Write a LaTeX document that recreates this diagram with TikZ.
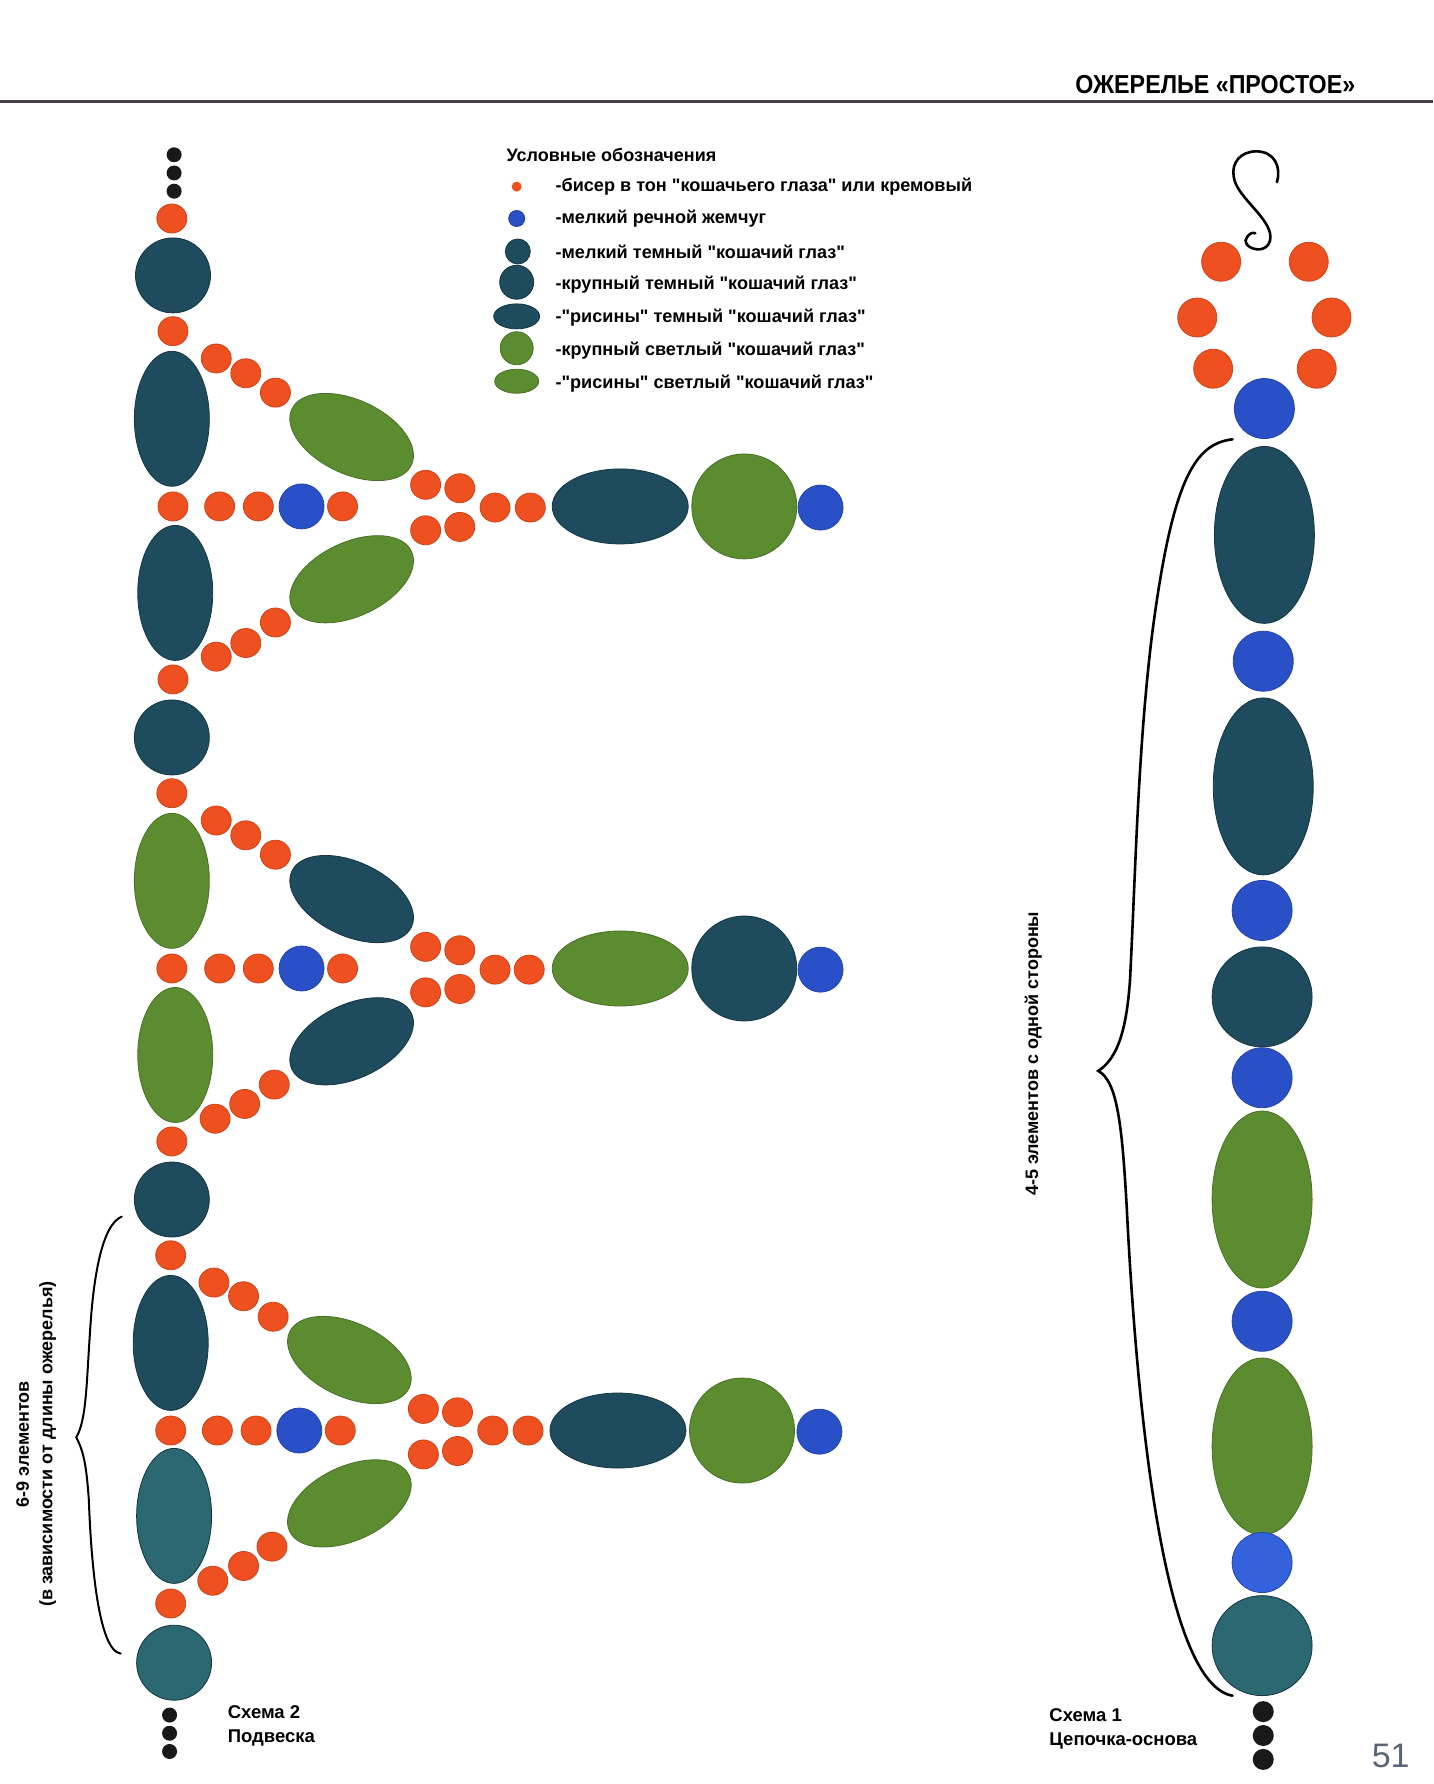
\documentclass[tikz,border=0pt]{standalone}
\usepackage{fontspec}
\setmainfont[Ligatures=TeXOff]{Liberation Sans}
\newfontfamily\headfont[FakeStretch=0.895]{Liberation Sans}
\usetikzlibrary{shapes.geometric}
\definecolor{tealdark}{HTML}{1E4C5E}
\definecolor{teallight}{HTML}{2C6872}
\definecolor{leaf}{HTML}{5C8C30}
\definecolor{beadred}{HTML}{EE5020}
\definecolor{pearl}{HTML}{2A50C8}
\definecolor{pearllight}{HTML}{3462DC}
\definecolor{rulegray}{HTML}{4A3C4A}
\definecolor{numgray}{HTML}{5A6678}
\tikzset{
 bead/.style={shape=ellipse,inner sep=0pt,outer sep=0pt,line width=0.8pt},
 redb/.style={bead,fill=beadred,draw=beadred!85!black,minimum width=30pt,minimum height=29pt},
 redbig/.style={bead,fill=beadred,draw=beadred!85!black,minimum width=39pt,minimum height=39pt},
 blueb/.style={bead,fill=pearl,draw=pearl!85!black,minimum width=45pt,minimum height=45pt},
 bluebig/.style={bead,fill=pearl,draw=pearl!85!black,minimum width=60pt,minimum height=60pt},
 dotb/.style={bead,fill=black!90,minimum width=15pt,minimum height=15pt},
 dotbig/.style={bead,fill=black!90,minimum width=21pt,minimum height=21pt},
 tealb/.style={bead,fill=tealdark,draw=tealdark!70!black},
 greenb/.style={bead,fill=leaf,draw=leaf!80!black},
 ball/.style={minimum width=75pt,minimum height=75pt},
 ballbig/.style={minimum width=105pt,minimum height=105pt},
 ballright/.style={minimum width=100pt,minimum height=100pt},
 ricev/.style={minimum width=75pt,minimum height=135pt},
 riceh/.style={minimum width=136pt,minimum height=75pt},
 ricer/.style={minimum width=132pt,minimum height=74pt},
 riceright/.style={minimum width=100pt,minimum height=177pt},
 legend/.style={anchor=west,inner sep=0pt,font=\fontsize{18.1}{20}\selectfont\bfseries},
 caption/.style={anchor=west,inner sep=0pt,font=\fontsize{18.5}{20}\selectfont\bfseries},
 sidenote/.style={rotate=90,inner sep=0pt,font=\fontsize{18}{20}\selectfont\bfseries},
 swirl/.style={line width=2.6pt,line cap=round}
}
\begin{document}
\begin{tikzpicture}[x=1.138pt,y=-1.138pt]
\useasboundingbox (0,0) rectangle (1259.2,1567.6);
% head line
\draw[rulegray,line width=3pt] (0,89.5) -- (1259.2,89.5);
\node[anchor=east,inner sep=0pt,font=\headfont\bfseries\fontsize{26}{28}\selectfont] (title) at (1191,74) {ОЖЕРЕЛЬЕ «ПРОСТОЕ»};
% legend
\node[legend,font=\fontsize{18}{20}\selectfont\bfseries] (lgtitle) at (445,136) {Условные обозначения};
\node[bead,fill=beadred,minimum size=10pt] (lg1) at (454,164) {};
\node[bead,fill=pearl,draw=pearl!70!black,minimum size=16pt] (lg2) at (454,192) {};
\node[tealb,minimum size=25pt] (lg3) at (455,221) {};
\node[tealb,minimum size=34pt] (lg4) at (454,248) {};
\node[tealb,minimum width=46pt,minimum height=25pt] (lg5) at (454,278) {};
\node[greenb,minimum size=33pt] (lg6) at (454,306) {};
\node[greenb,minimum width=44pt,minimum height=24pt] (lg7) at (454,335) {};
\node[legend] (lb1) at (488,164) {-бисер в тон "кошачьего глаза" или кремовый};
\node[legend] (lb2) at (488,192) {-мелкий речной жемчуг};
\node[legend] (lb3) at (488,221) {-мелкий темный "кошачий глаз"};
\node[legend] (lb4) at (488,250) {-крупный темный "кошачий глаз"};
\node[legend] (lb5) at (488,279) {-"рисины" темный "кошачий глаз"};
\node[legend] (lb6) at (488,308) {-крупный светлый "кошачий глаз"};
\node[legend] (lb7) at (488,337) {-"рисины" светлый "кошачий глаз"};
% pendant, top part
\node[dotb] (ta) at (153,136) {};
\node[dotb] (tb) at (153,152) {};
\node[dotb] (tc) at (153,168) {};
\node[redb] (a0) at (151,192) {};
\node[tealb,ball] (a1) at (152,242) {};
\node[redb] (a2) at (152,291) {};
\node[tealb,ricev] (a3) at (151,368) {};
\node[redb] (a4) at (190,315) {};
\node[redb] (a5) at (216,328) {};
\node[redb] (a6) at (242,345) {};
\node[greenb,ricer,rotate=-25] (a7) at (309,384) {};
\node[redb] (a8) at (152,445) {};
\node[redb] (a9) at (193,445) {};
\node[redb] (a10) at (227,445) {};
\node[blueb] (a11) at (265,445) {};
\node[redb] (a12) at (301,445) {};
\node[redb] (a13) at (374,426) {};
\node[redb] (a14) at (404,429) {};
\node[redb] (a15) at (374,466) {};
\node[redb] (a16) at (404,463) {};
\node[redb] (a17) at (435,446) {};
\node[redb] (a18) at (466,446) {};
\node[tealb,riceh] (a19) at (545,445) {};
\node[greenb,ballbig] (a20) at (654,445) {};
\node[blueb] (a21) at (721,446) {};
\node[tealb,ricev] (a22) at (154,521) {};
\node[greenb,ricer,rotate=25] (a23) at (309,509) {};
\node[redb] (a24) at (242,547) {};
\node[redb] (a25) at (216,565) {};
\node[redb] (a26) at (190,577) {};
\node[redb] (a27) at (152,597) {};
\node[tealb,ball] (a28) at (151,648) {};
% pendant, middle part
\node[redb] (b2) at (151,697) {};
\node[greenb,ricev] (b3) at (151,774) {};
\node[redb] (b4) at (190,721) {};
\node[redb] (b5) at (216,734) {};
\node[redb] (b6) at (242,751) {};
\node[tealb,ricer,rotate=-25] (b7) at (309,790) {};
\node[redb] (b8) at (151,851) {};
\node[redb] (b9) at (193,851) {};
\node[redb] (b10) at (227,851) {};
\node[blueb] (b11) at (265,851) {};
\node[redb] (b12) at (301,851) {};
\node[redb] (b13) at (374,832) {};
\node[redb] (b14) at (404,835) {};
\node[redb] (b15) at (374,872) {};
\node[redb] (b16) at (404,869) {};
\node[redb] (b17) at (435,852) {};
\node[redb] (b18) at (465,852) {};
\node[greenb,riceh] (b19) at (545,851) {};
\node[tealb,ballbig] (b20) at (654,851) {};
\node[blueb] (b21) at (721,852) {};
\node[greenb,ricev] (b22) at (154,927) {};
\node[tealb,ricer,rotate=25] (b23) at (309,915) {};
\node[redb] (b24) at (241,953) {};
\node[redb] (b25) at (215,970) {};
\node[redb] (b26) at (189,983) {};
\node[redb] (b27) at (151,1003) {};
\node[tealb,ball] (b28) at (151,1054) {};
% pendant, lower part
\node[redb] (c2) at (150,1103) {};
\node[tealb,ricev] (c3) at (150,1180) {};
\node[redb] (c4) at (188,1127) {};
\node[redb] (c5) at (214,1139) {};
\node[redb] (c6) at (240,1157) {};
\node[greenb,ricer,rotate=-25] (c7) at (307,1195) {};
\node[redb] (c8) at (150,1257) {};
\node[redb] (c9) at (191,1257) {};
\node[redb] (c10) at (225,1257) {};
\node[blueb] (c11) at (263,1257) {};
\node[redb] (c12) at (299,1257) {};
\node[redb] (c13) at (372,1238) {};
\node[redb] (c14) at (402,1241) {};
\node[redb] (c15) at (372,1278) {};
\node[redb] (c16) at (402,1275) {};
\node[redb] (c17) at (433,1257) {};
\node[redb] (c18) at (464,1257) {};
\node[tealb,riceh] (c19) at (543,1257) {};
\node[greenb,ballbig] (c20) at (652,1257) {};
\node[blueb] (c21) at (720,1258) {};
\node[tealb,ricev,fill=teallight] (c22) at (153,1332) {};
\node[greenb,ricer,rotate=25] (c23) at (307,1321) {};
\node[redb] (c24) at (239,1359) {};
\node[redb] (c25) at (214,1376) {};
\node[redb] (c26) at (187,1389) {};
\node[redb] (c27) at (150,1409) {};
\node[tealb,ball,fill=teallight] (c28) at (153,1461) {};
\node[dotb] (ba) at (149,1507) {};
\node[dotb] (bb) at (149,1523) {};
\node[dotb] (bc) at (149,1539) {};
\node[caption] (cap2a) at (200,1504) {Схема 2};
\node[caption] (cap2b) at (200,1527) {Подвеска};
% brace of the pendant
\draw[swirl,line width=2pt] (107,1069) .. controls (90,1076) and (82,1120) .. (79,1172) .. controls (76,1215) and (76,1248) .. (67,1263) .. controls (74,1276) and (76,1290) .. (78,1317) .. controls (80,1370) and (86,1450) .. (106,1453);
\node[sidenote] (note2a) at (20,1269) {6-9 элементов};
\node[sidenote] (note2b) at (42,1269) {(в зависимости от длины ожерелья)};
% chain, clasp
\draw[swirl] (1122,160) .. controls (1126,147) and (1120,133) .. (1104,133) .. controls (1090,133) and (1082,143) .. (1084,155) .. controls (1086,172) and (1112,188) .. (1116,205) .. controls (1118,216) and (1110,220) .. (1104,219) .. controls (1096,218) and (1092,212) .. (1096,208) .. controls (1098,205) and (1101,204) .. (1103,205);
\node[redbig] (k1) at (1073,230) {};
\node[redbig] (k2) at (1150,230) {};
\node[redbig] (k3) at (1052,279) {};
\node[redbig] (k4) at (1170,279) {};
\node[redbig] (k5) at (1066,324) {};
\node[redbig] (k6) at (1157,324) {};
% chain beads
\node[bluebig] (k7) at (1111,359) {};
\node[tealb,riceright] (k8) at (1111,470) {};
\node[bluebig] (k9) at (1110,581) {};
\node[tealb,riceright] (k10) at (1110,691) {};
\node[bluebig] (k11) at (1109,800) {};
\node[tealb,ballright] (k12) at (1109,876) {};
\node[bluebig] (k13) at (1109,947) {};
\node[greenb,riceright] (k14) at (1109,1054) {};
\node[bluebig] (k15) at (1109,1161) {};
\node[greenb,riceright] (k16) at (1109,1271) {};
\node[bluebig,fill=pearllight] (k17) at (1109,1373) {};
\node[tealb,ballright,fill=teallight] (k18) at (1109,1446) {};
\node[dotbig] (ka) at (1110,1504) {};
\node[dotbig] (kb) at (1110,1525) {};
\node[dotbig] (kc) at (1110,1546) {};
\node[caption] (cap1a) at (922,1507) {Схема 1};
\node[caption] (cap1b) at (922,1530) {Цепочка-основа};
% brace of the chain
\draw[swirl] (1083,386) .. controls (1050,390) and (1030,420) .. (1012,560) .. controls (1000,660) and (998,760) .. (993,860) .. controls (990,905) and (982,930) .. (965,941) .. controls (982,950) and (986,990) .. (990,1060) .. controls (1000,1260) and (1025,1480) .. (1083,1490);
\node[sidenote] (note1) at (908,926) {4-5 элементов с одной стороны};
% page number
\node[inner sep=0pt,font=\fontsize{34}{36}\selectfont,text=numgray] (pagenum) at (1222,1543) {51};
\end{tikzpicture}
\end{document}
